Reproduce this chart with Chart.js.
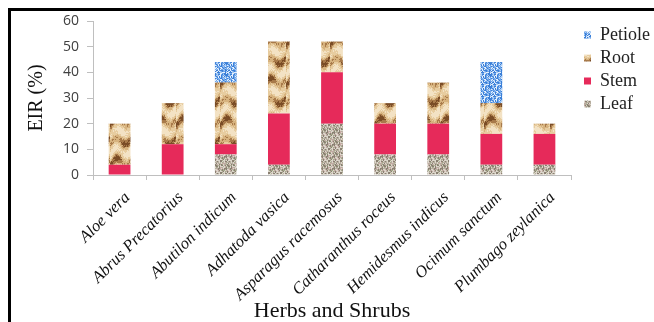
<!DOCTYPE html>
<html>
<head>
<meta charset="utf-8">
<script src="https://cdn.jsdelivr.net/npm/chart.js@4.4.1/dist/chart.umd.min.js"></script>
<style>
  html, body { margin: 0; padding: 0; background: #fff; }
  #wrap { position: relative; width: 654px; height: 322px; overflow: hidden; }
  #frame { position: absolute; left: 8px; top: 8px; width: 700px; height: 400px;
           border-left: 3px solid #000; border-top: 3px solid #000; pointer-events: none; }
  canvas { position: absolute; left: 0; top: 0; }
</style>
</head>
<body>
<div id="wrap">
  <canvas id="c" width="654" height="322"></canvas>
  <div id="frame"></div>
</div>
<script>
const categories = ["Aloe vera", "Abrus Precatorius", "Abutilon indicum", "Adhatoda vasica",
  "Asparagus racemosus", "Catharanthus roceus", "Hemidesmus indicus", "Ocimum sanctum", "Plumbago zeylanica"];
const leaf    = [0, 0, 8, 4, 20, 8, 8, 4, 4];
const stem    = [4, 12, 4, 20, 20, 12, 12, 12, 12];
const root    = [16, 16, 24, 28, 12, 8, 16, 12, 4];
const petiole = [0, 0, 8, 0, 0, 0, 0, 16, 0];
const yTicks  = [0, 10, 20, 30, 40, 50, 60];

// deterministic hash for textures (style only)
function h(x, y, s) {
  let n = (x * 374761393 + y * 668265263 + s * 982451653) | 0;
  n = Math.imul(n ^ (n >>> 13), 1274126177);
  n = n ^ (n >>> 16);
  return ((n >>> 0) % 1000) / 1000;
}
function makePattern(kind) {
  const w = kind === 'root' ? 22 : 12;
  const hgt = kind === 'root' ? 40 : 12;
  const c = document.createElement('canvas');
  c.width = w; c.height = hgt;
  const g = c.getContext('2d');
  for (let y = 0; y < hgt; y++) {
    for (let x = 0; x < w; x++) {
      const r = h(x, y, kind.length);
      let col;
      if (kind === 'leaf') {
        col = r < 0.22 ? '#8a8072' : r < 0.5 ? '#b7ae9f' : r < 0.82 ? '#dcd6cb' : (r < 0.92 ? '#a4a98a' : '#c9aaa6');
      } else if (kind === 'petiole') {
        col = r < 0.35 ? '#3a7fd8' : r < 0.6 ? '#6fa6ea' : r < 0.85 ? '#a9cbf3' : '#e6f0fb';
      } else {
        const a = Math.sin((y / hgt) * Math.PI * 2 * 2 + Math.sin((x / w) * Math.PI * 2) * 1.6 + x * 0.12);
        const b = Math.sin((y / hgt) * Math.PI * 2 + (x / w) * Math.PI * 2);
        const v = a * 0.75 + b * 0.35 + (r - 0.5) * 0.5;
        col = v > 0.85 ? '#7a4c26' : v > 0.5 ? '#a87a4a' : v > 0.05 ? '#d6b27e' : v > -0.5 ? '#e7cc9f' : '#f3e2c4';
      }
      g.fillStyle = col;
      g.fillRect(x, y, 1, 1);
    }
  }
  return g.createPattern(c, 'repeat');
}
const leafPat = makePattern('leaf');
const rootPat = makePattern('root');
const petPat = makePattern('petiole');
const stemCol = '#e62a5a';

const serif = "'Liberation Serif', 'Times New Roman', serif";

const legendShift = {
  id: 'legendShift',
  afterLayout(chart) {
    if (chart.legend) { chart.legend.left += 8; chart.legend.right += 8; }
  }
};

new Chart(document.getElementById('c'), {
  type: 'bar',
  data: {
    labels: categories,
    datasets: [
      { label: 'Leaf', data: leaf, backgroundColor: leafPat },
      { label: 'Stem', data: stem, backgroundColor: stemCol },
      { label: 'Root', data: root, backgroundColor: rootPat },
      { label: 'Petiole', data: petiole, backgroundColor: petPat }
    ]
  },
  plugins: [legendShift],
  options: {
    responsive: false,
    animation: false,
    devicePixelRatio: 1,
    layout: { padding: { left: 20, right: 2, top: 21, bottom: 0 } },
    datasets: { bar: { categoryPercentage: 1.0, barPercentage: 0.41, borderWidth: 0 } },
    plugins: {
      tooltip: { enabled: false },
      legend: {
        position: 'right',
        align: 'start',
        reverse: true,
        labels: {
          boxWidth: 7, boxHeight: 7, padding: 5,
          color: '#222',
          font: { family: serif, size: 18 }
        }
      }
    },
    scales: {
      x: {
        stacked: true,
        afterFit: (s) => { s.height = 147; },
        grid: { display: true, drawOnChartArea: false, color: '#bfbfbf', tickLength: 5, offset: true },
        border: { color: '#bfbfbf' },
        ticks: {
          autoSkip: false, maxRotation: 45, minRotation: 45,
          color: '#111', padding: 8, labelOffset: 8,
          font: { family: serif, size: 16.5, style: 'italic' }
        },
        title: {
          display: true, text: 'Herbs and Shrubs', color: '#111',
          font: { family: serif, size: 22, lineHeight: 1.0 }, padding: { top: 0, bottom: 0 }
        }
      },
      y: {
        stacked: true,
        min: 0, max: 60,
        afterFit: (s) => { s.width = 73; },
        afterBuildTicks: (s) => { s.ticks = yTicks.map(v => ({ value: v })); },
        grid: { display: true, drawOnChartArea: false, color: '#bfbfbf', tickLength: 6 },
        border: { color: '#bfbfbf' },
        ticks: {
          color: '#404040', padding: 8,
          font: { family: "'Open Sans', 'Noto Sans', sans-serif", size: 14 }
        },
        title: {
          display: true, text: 'EIR (%)', color: '#111',
          font: { family: serif, size: 20 }, padding: { top: 5, bottom: 0 }
        }
      }
    }
  }
});
</script>
</body>
</html>
